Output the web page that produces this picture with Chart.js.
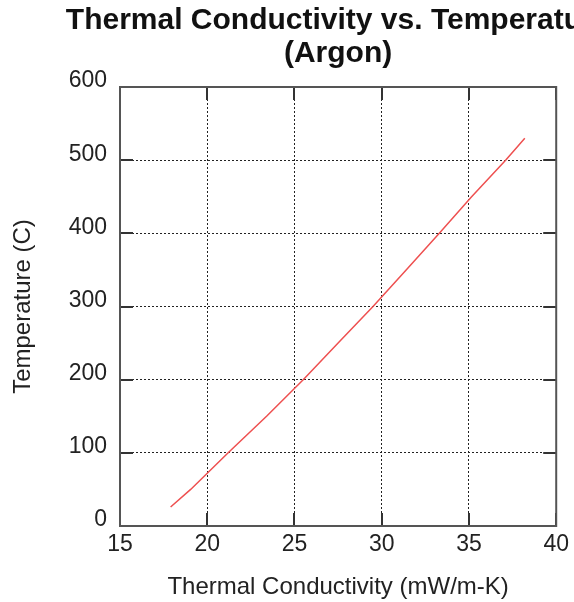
<!DOCTYPE html>
<html><head><meta charset="utf-8">
<script src="https://cdn.jsdelivr.net/npm/chart.js@4.4.1/dist/chart.umd.min.js"></script>
<style>html,body{margin:0;padding:0;background:#fff;overflow:hidden}#c{display:block}</style>
</head><body>
<canvas id="c" width="574" height="602"></canvas>
<script>
const titleLines = ['Thermal Conductivity vs. Temperature', '(Argon)'];
const xAxisTitle = 'Thermal Conductivity (mW/m-K)';
const yAxisTitle = 'Temperature (C)';
const temperatureC = [26, 50, 100, 150, 200, 250, 300, 350, 400, 450, 500, 530];
const conductivity = [17.9, 19.05, 21.2, 23.4, 25.5, 27.5, 29.5, 31.4, 33.3, 35.15, 37.1, 38.2];
const xTicks = [15, 20, 25, 30, 35, 40];
const yTicks = [0, 100, 200, 300, 400, 500, 600];

const FONT = '"Liberation Sans", Arial, Helvetica, sans-serif';

const framePlugin = {
  id: 'frame',
  afterDraw(chart) {
    const {ctx, chartArea: a, scales} = chart;
    ctx.save();
    // inner tick marks
    ctx.strokeStyle = '#333';
    ctx.lineWidth = 2;
    const L = 13;
    ctx.beginPath();
    xTicks.forEach(v => {
      const x = Math.round(scales.x.getPixelForValue(v));
      ctx.moveTo(x, a.bottom); ctx.lineTo(x, a.bottom - L);
      ctx.moveTo(x, a.top); ctx.lineTo(x, a.top + L);
    });
    yTicks.forEach(v => {
      const y = Math.round(scales.y.getPixelForValue(v));
      ctx.moveTo(a.left, y); ctx.lineTo(a.left + L, y);
      ctx.moveTo(a.right, y); ctx.lineTo(a.right - L, y);
    });
    ctx.stroke();
    // frame
    ctx.strokeStyle = '#555';
    ctx.lineWidth = 2;
    ctx.strokeRect(a.left, a.top, a.right - a.left, a.bottom - a.top);
    // title
    ctx.fillStyle = '#111';
    ctx.font = 'bold 30px ' + FONT;
    ctx.textAlign = 'center';
    ctx.textBaseline = 'middle';
    const cx = (a.left + a.right) / 2;
    ctx.fillText(titleLines[0], cx, a.top - 66);
    ctx.fillText(titleLines[1], cx, a.top - 33);
    ctx.restore();
  }
};

new Chart(document.getElementById('c'), {
  type: 'scatter',
  data: {
    datasets: [{
      data: conductivity.map((k, i) => ({x: k, y: temperatureC[i]})),
      showLine: true,
      borderColor: 'rgb(238,80,80)',
      borderWidth: 1.5,
      pointRadius: 0,
      tension: 0
    }]
  },
  plugins: [framePlugin],
  options: {
    responsive: false,
    animation: false,
    layout: {padding: {top: 87, right: 16, left: 0, bottom: 0}},
    plugins: {legend: {display: false}, tooltip: {enabled: false}, title: {display: false}},
    scales: {
      x: {
        type: 'linear', min: 15, max: 40,
        afterFit(s) { s.height = 76; },
        afterBuildTicks(s) { s.ticks = xTicks.map(v => ({value: v})); },
        grid: {color: '#222', lineWidth: 1, drawTicks: false},
        border: {display: false, dash: [2, 2]},
        ticks: {padding: 5, color: '#222', font: {family: FONT, size: 23}},
        title: {display: true, text: xAxisTitle, color: '#222', font: {family: FONT, size: 24}, padding: {top: 0, bottom: 0}}
      },
      y: {
        type: 'linear', min: 0, max: 600,
        afterFit(s) { s.width = 120; },
        afterBuildTicks(s) { s.ticks = yTicks.map(v => ({value: v})); },
        grid: {color: '#222', lineWidth: 1, drawTicks: false},
        border: {display: false, dash: [2, 2]},
        ticks: {padding: 13, labelOffset: -6, color: '#222', font: {family: FONT, size: 23}},
        title: {display: true, text: yAxisTitle, color: '#222', font: {family: FONT, size: 24}, padding: {top: 9, bottom: 0}}
      }
    }
  }
});
</script>
</body></html>
